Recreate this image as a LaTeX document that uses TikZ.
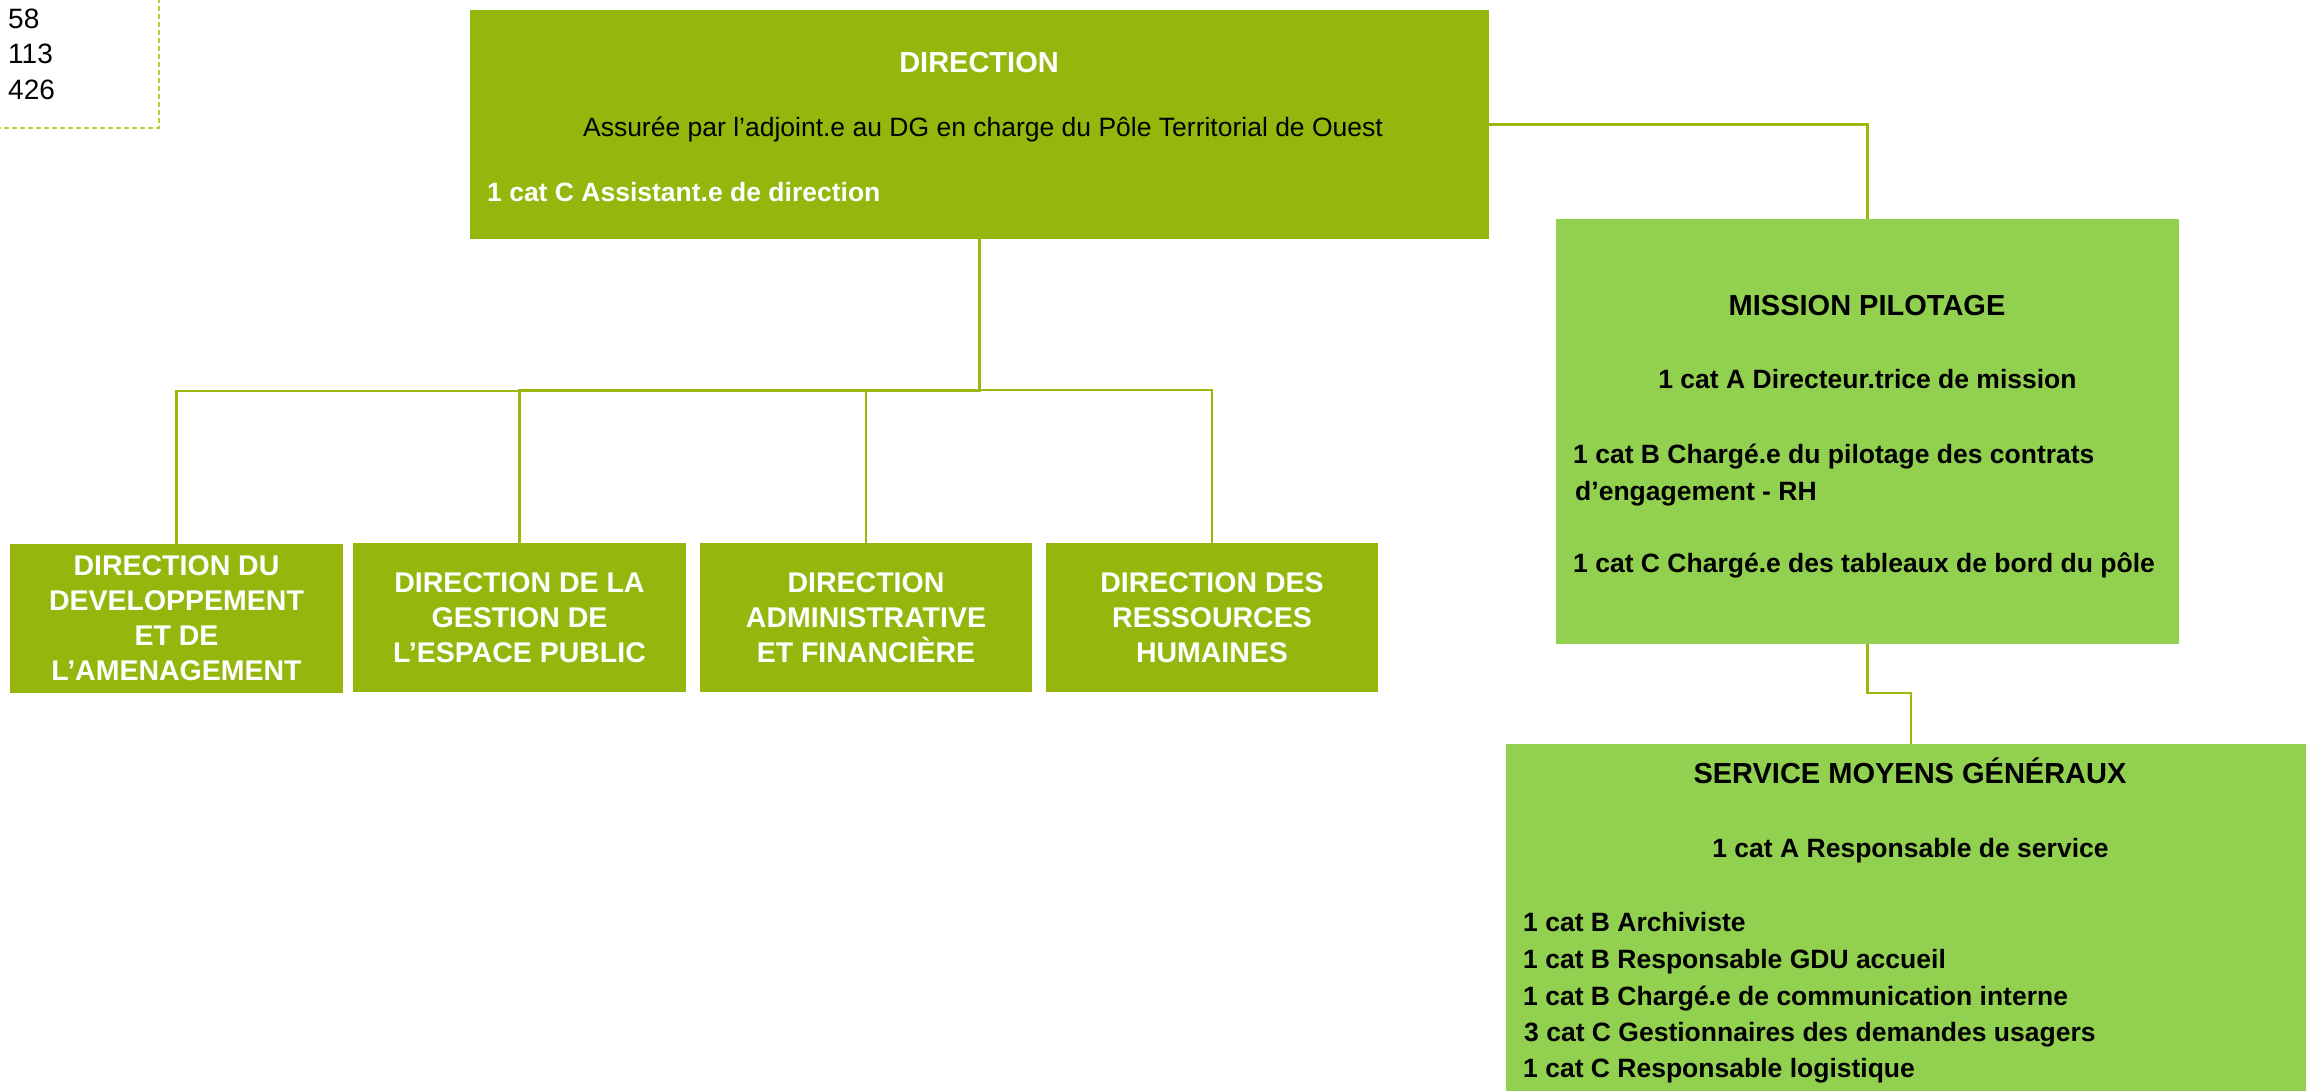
\documentclass[tikz,border=0pt]{standalone}
\usepackage{fontspec}
\setmainfont{Liberation Sans}
\definecolor{dirgreen}{RGB}{149,183,13}
\definecolor{lightgr}{RGB}{146,208,80}
\definecolor{lineg}{RGB}{152,186,16}
\definecolor{dashgr}{RGB}{180,208,60}
\begin{document}
\begin{tikzpicture}[x=1pt,y=-1pt,
  conn/.style={draw=lineg, line width=2.2pt},
  boxdir/.style={fill=dirgreen, inner sep=0pt, outer sep=0pt},
  boxlt/.style={fill=lightgr, inner sep=0pt, outer sep=0pt},
  lowbox/.style={boxdir, text=white, font=\fontsize{28.5}{35}\selectfont\bfseries, align=center, minimum width=333pt, minimum height=149pt},
  ttl/.style={inner sep=0pt, anchor=base, font=\fontsize{29}{35}\selectfont\bfseries},
  txtb/.style={inner sep=0pt, font=\fontsize{26.5}{32}\selectfont\bfseries},
  txtr/.style={inner sep=0pt, font=\fontsize{26.5}{32}\selectfont},
  num/.style={inner sep=0pt, anchor=base west, font=\fontsize{28}{34}\selectfont}
]
\useasboundingbox (0,0) rectangle (2306,1090);
\fill[white] (0,0) rectangle (2306,1090);

% dashed legend frame (partly outside)
\draw[dashgr, line width=1.5pt, dash pattern=on 5pt off 3pt] (159,-2) -- (159,128) -- (-2,128);
\node[num] (n58) at (8,28.3) {58};
\node[num] (n113) at (8,63.3) {113};
\node[num] (n426) at (8,99.3) {426};

% boxes
\node[boxdir, minimum width=1019pt, minimum height=229pt] (DIR) at (979.5,124.5) {};
\node[boxlt, minimum width=623pt, minimum height=425pt] (MP) at (1867.5,431.5) {};
\node[boxlt, minimum width=810pt, minimum height=356pt] (SMG) at (1911,922) {};

\node[lowbox] (B1) at (176.5,618.5) {DIRECTION DU\\DEVELOPPEMENT\\ET DE\\L’AMENAGEMENT};
\node[lowbox] (B2) at (519.5,617.5) {DIRECTION DE LA\\GESTION DE\\L’ESPACE PUBLIC};
\node[lowbox, minimum width=332pt] (B3) at (866,617.5) {DIRECTION\\ADMINISTRATIVE\\ET FINANCIÈRE};
\node[lowbox, minimum width=332pt] (B4) at (1212,617.5) {DIRECTION DES\\RESSOURCES\\HUMAINES};

% texts in DIRECTION
\node[ttl, text=white] (dirT) at (979,72) {DIRECTION};
\node[txtr, anchor=base] (dirA) at (983,136) {Assurée par l’adjoint.e au DG en charge du Pôle Territorial de Ouest};
\node[txtb, anchor=base west, text=white] (dirC) at (487,201) {1 cat C Assistant.e de direction};

% texts in MISSION PILOTAGE
\node[ttl] (mpT) at (1867,315.5) {MISSION PILOTAGE};
\node[txtb, anchor=base] (mpA) at (1867.5,388.5) {1 cat A Directeur.trice de mission};
\node[txtb, anchor=base west] (mpB1) at (1573,463.5) {1 cat B Chargé.e du pilotage des contrats};
\node[txtb, anchor=base west] (mpB2) at (1575,500.5) {d’engagement - RH};
\node[txtb, anchor=base west] (mpC) at (1573,572.5) {1 cat C Chargé.e des tableaux de bord du pôle};

% texts in SERVICE MOYENS GENERAUX
\node[ttl] (smgT) at (1910,783.4) {SERVICE MOYENS GÉNÉRAUX};
\node[txtb, anchor=base] (smgA) at (1910.5,857.5) {1 cat A Responsable de service};
\node[txtb, anchor=base west] (smg1) at (1523,931.5) {1 cat B Archiviste};
\node[txtb, anchor=base west] (smg2) at (1523,968) {1 cat B Responsable GDU accueil};
\node[txtb, anchor=base west] (smg3) at (1523,1005) {1 cat B Chargé.e de communication interne};
\node[txtb, anchor=base west] (smg4) at (1524,1041) {3 cat C Gestionnaires des demandes usagers};
\node[txtb, anchor=base west] (smg5) at (1523,1077.5) {1 cat C Responsable logistique};

% connectors
\draw[conn] (DIR.east) -| (MP.north);
\draw[conn] (MP.south) -- ++(0,49) -| (SMG.north);
\draw[conn] (DIR.south) -- ++(0,152) -| (B1.north);
\draw[conn] (DIR.south) -- ++(0,151) -| (B2.north);
\draw[conn] (DIR.south) -- ++(0,151) -| (B3.north);
\draw[conn] (DIR.south) -- ++(0,151) -| (B4.north);
\end{tikzpicture}
\end{document}
